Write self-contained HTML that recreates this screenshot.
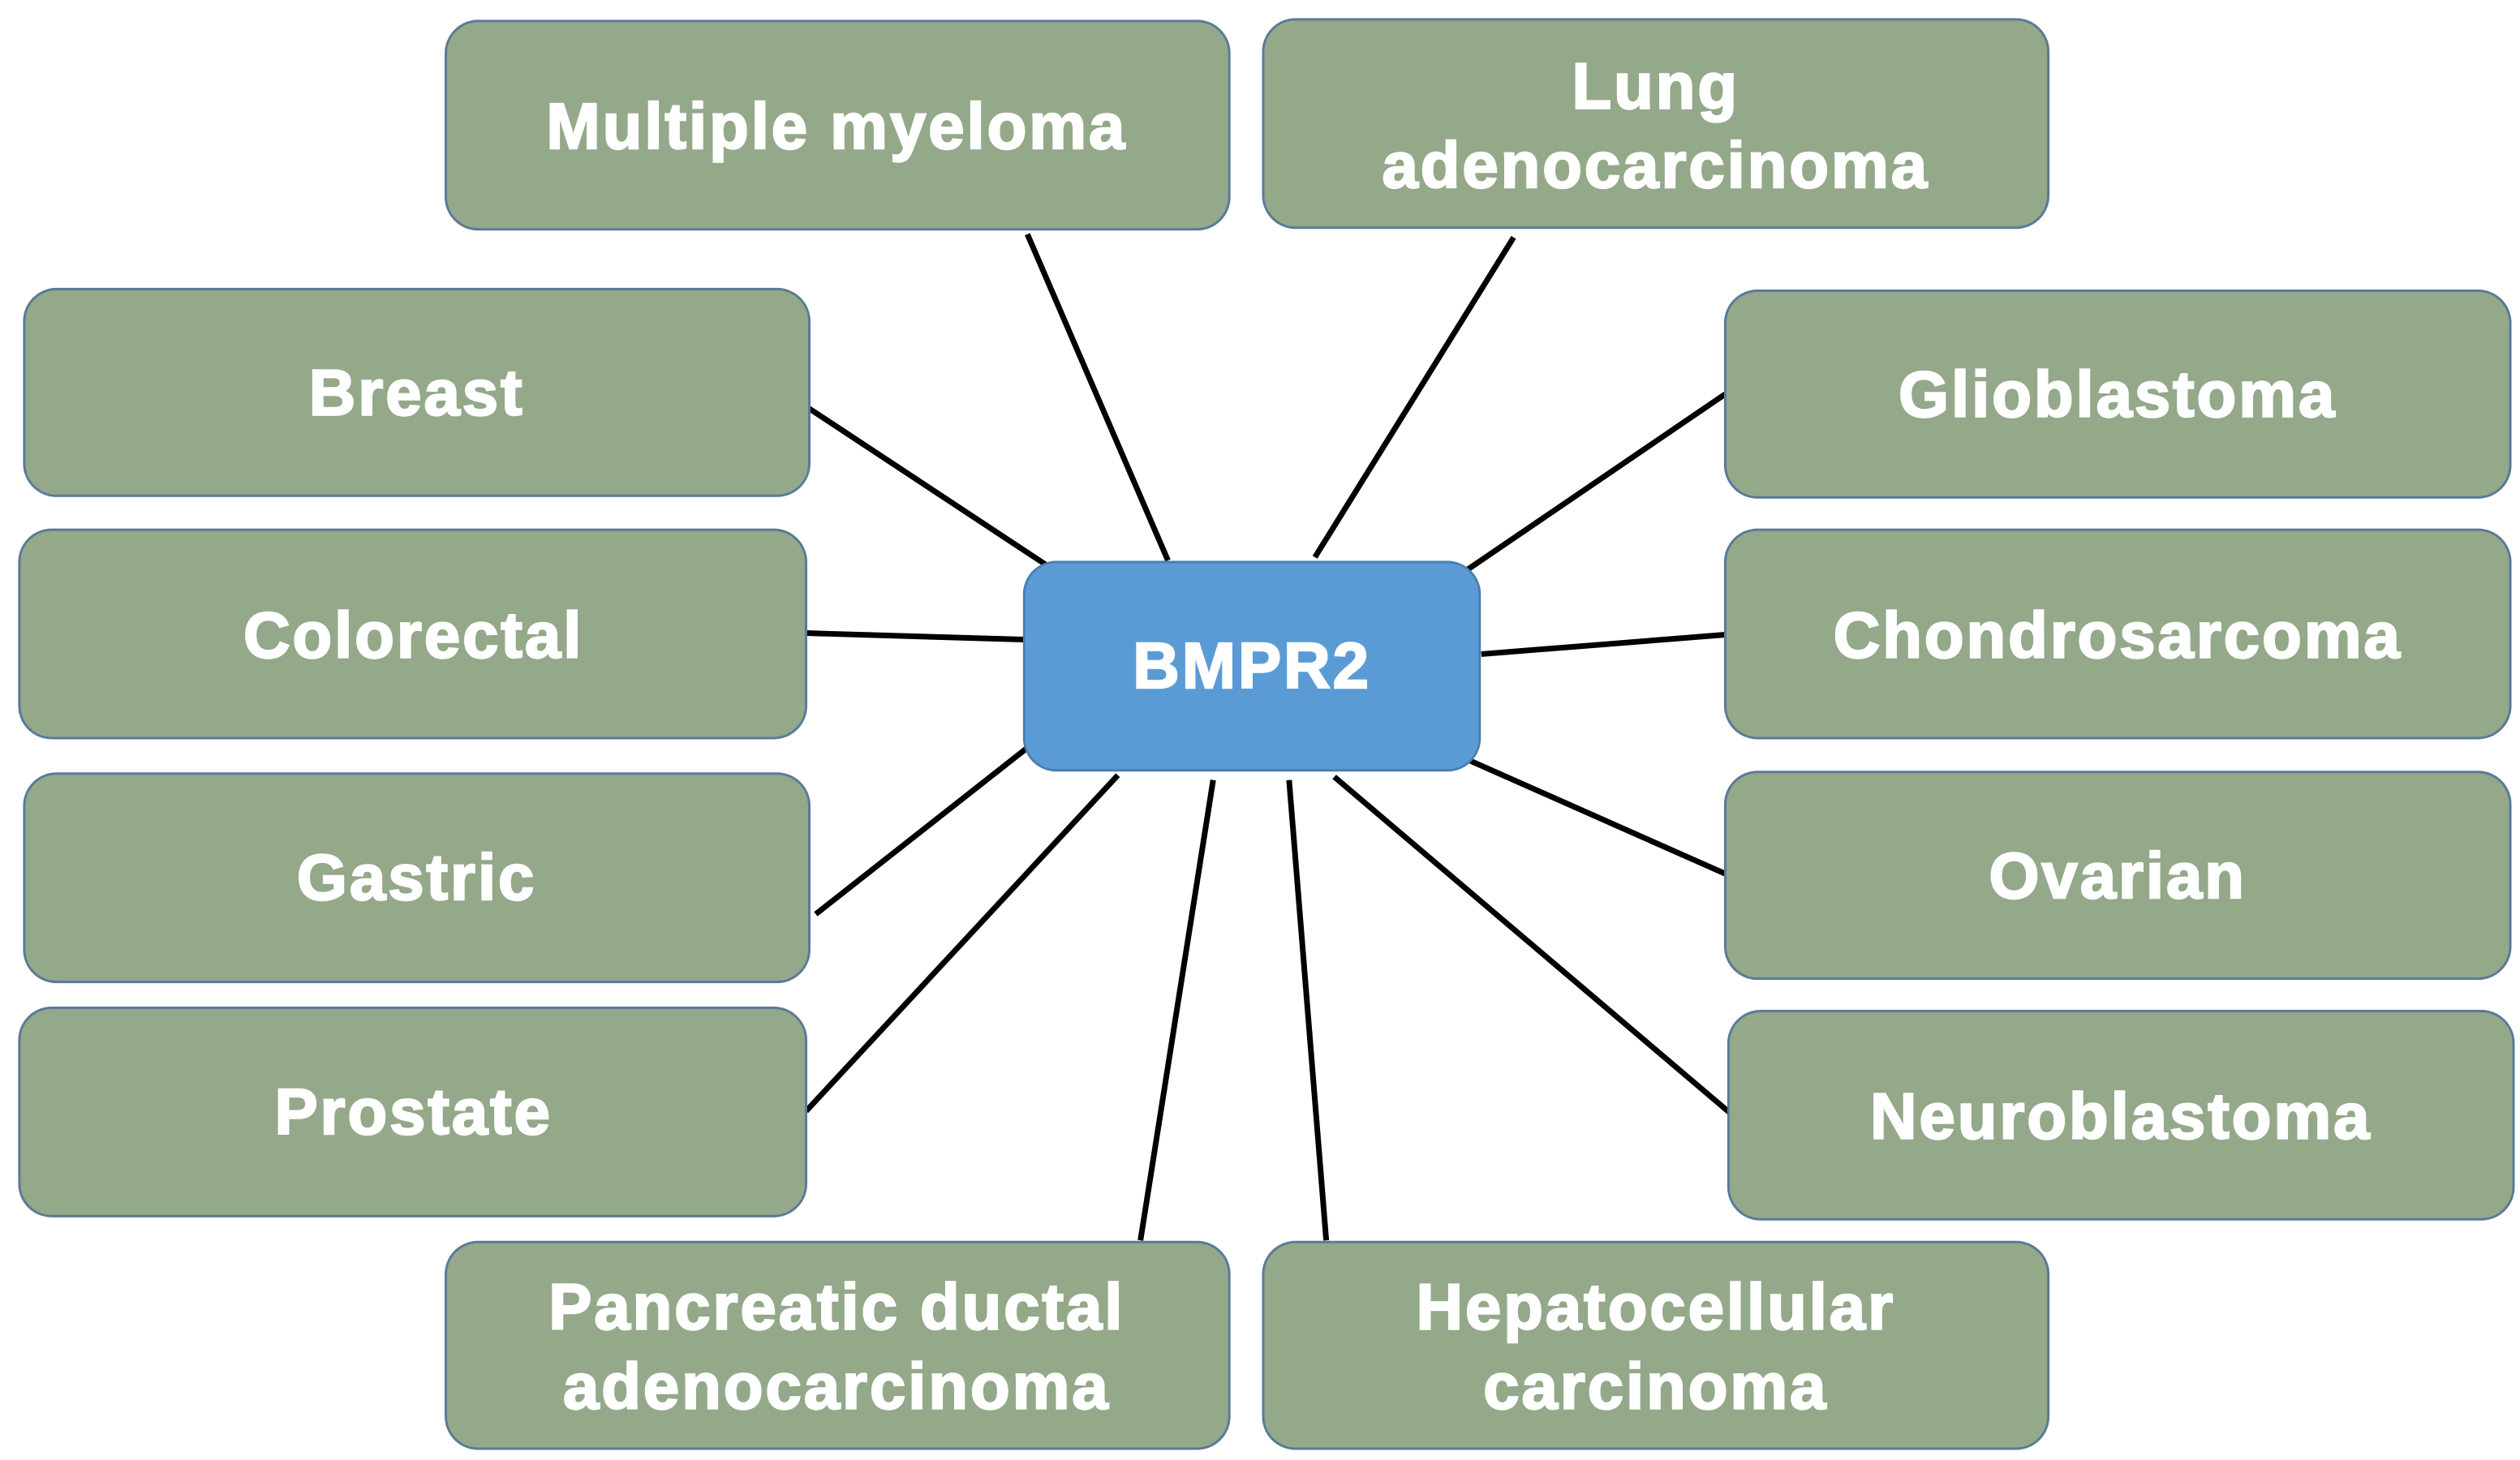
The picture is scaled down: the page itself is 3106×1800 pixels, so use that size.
<!DOCTYPE html>
<html><head><meta charset="utf-8"><style>
html,body{margin:0;padding:0;background:#fff;}
svg{display:block;}
text{font-family:"Liberation Sans",Arial,sans-serif;font-weight:bold;fill:#fff;font-size:40px;text-anchor:middle;stroke:#fff;stroke-width:1.2px;letter-spacing:1.5px;}
</style></head><body>
<svg width="3106" height="1800" viewBox="0 0 1560 904" preserveAspectRatio="none" xmlns="http://www.w3.org/2000/svg">
<g stroke="#000" stroke-width="3.5" stroke-linecap="butt">
<line x1="636" y1="145" x2="723" y2="347"/>
<line x1="937" y1="147" x2="814" y2="345"/>
<line x1="501" y1="253" x2="651" y2="352"/>
<line x1="1068" y1="244" x2="908" y2="353"/>
<line x1="499" y1="392" x2="634" y2="396"/>
<line x1="1068" y1="393" x2="917" y2="405"/>
<line x1="505" y1="566" x2="636" y2="463"/>
<line x1="1068" y1="541" x2="910" y2="471"/>
<line x1="499" y1="688" x2="692" y2="480"/>
<line x1="1072" y1="690" x2="826" y2="481"/>
<line x1="706" y1="768" x2="751" y2="483"/>
<line x1="821" y1="768" x2="798" y2="483"/>
</g>
<g fill="#94a88a" stroke="#5a7a98" stroke-width="1.5">
<rect x="276" y="13" width="485" height="129" rx="20"/>
<rect x="782" y="12" width="486" height="129" rx="20"/>
<rect x="15" y="179" width="486" height="128" rx="20"/>
<rect x="1068" y="180" width="486" height="128" rx="20"/>
<rect x="12" y="328" width="487" height="129" rx="20"/>
<rect x="1068" y="328" width="486" height="129" rx="20"/>
<rect x="15" y="479" width="486" height="129" rx="20"/>
<rect x="1068" y="478" width="486" height="128" rx="20"/>
<rect x="12" y="624" width="487" height="129" rx="20"/>
<rect x="1070" y="626" width="486" height="129" rx="20"/>
<rect x="276" y="769" width="485" height="128" rx="20"/>
<rect x="782" y="769" width="486" height="128" rx="20"/>
</g>
<rect x="634" y="348" width="282" height="129" rx="20" fill="#5b9bd5" stroke="#4a7fb0" stroke-width="1.5"/>
<text x="775" y="426">BMPR2</text>
<text x="518" y="92">Multiple myeloma</text>
<text x="1025" y="67">Lung</text>
<text x="1025" y="116">adenocarcinoma</text>
<text x="258" y="257">Breast</text>
<text x="1311" y="258">Glioblastoma</text>
<text x="256" y="407">Colorectal</text>
<text x="1311" y="407">Chondrosarcoma</text>
<text x="258" y="557">Gastric</text>
<text x="1311" y="556">Ovarian</text>
<text x="256" y="702">Prostate</text>
<text x="1313" y="705">Neuroblastoma</text>
<text x="518" y="823">Pancreatic ductal</text>
<text x="518" y="872">adenocarcinoma</text>
<text x="1025" y="823">Hepatocellular</text>
<text x="1025" y="872">carcinoma</text>
</svg>
</body></html>
